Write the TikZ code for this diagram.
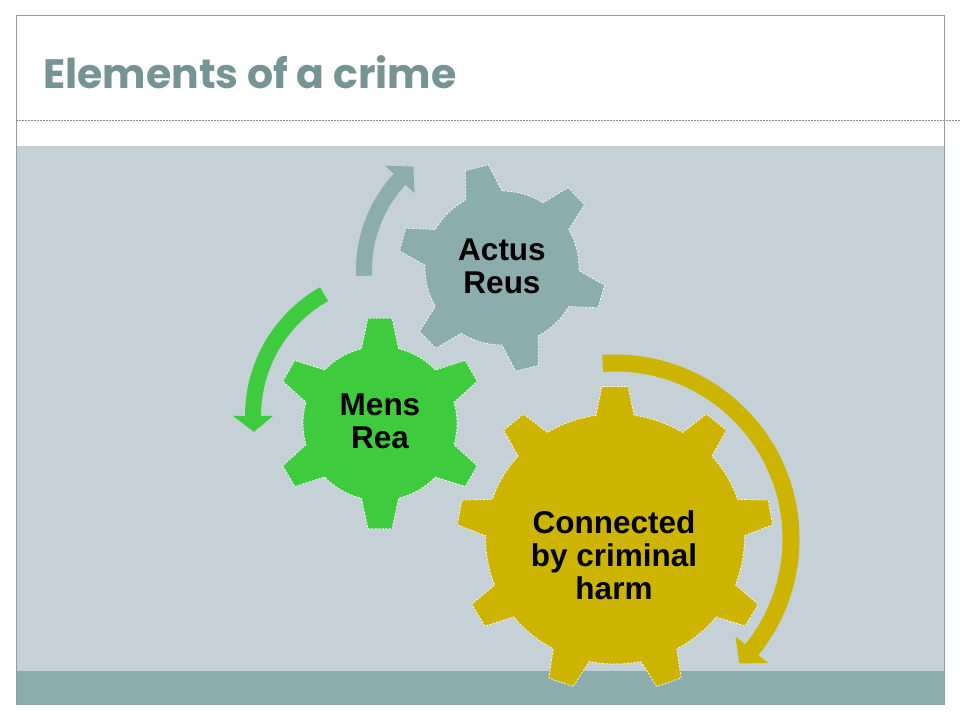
\documentclass[tikz,border=0pt]{standalone}
\usepackage{fontspec}
\newfontfamily\gearfont{Liberation Sans}
\newfontfamily\titlefont{Poppins}
\definecolor{bandgray}{RGB}{197,209,215}
\definecolor{tealc}{RGB}{140,173,173}
\definecolor{greenc}{RGB}{62,204,62}
\definecolor{goldc}{RGB}{204,180,0}
\definecolor{titlec}{RGB}{118,148,148}
\definecolor{framec}{RGB}{140,160,160}
\definecolor{dashc}{RGB}{130,140,140}
\newcommand\drawgear[7]{% #1 style, #2 n, #3 phase, #4 rroot, #5 rtip, #6 hb, #7 ht
  \path[#1] ({#3-#6}:#4) foreach \i in {1,...,#2}{ -- ({#3+(\i-1)*360/#2-#7}:#5) -- ({#3+(\i-1)*360/#2+#7}:#5) -- ({#3+(\i-1)*360/#2+#6}:#4) arc[start angle={#3+(\i-1)*360/#2+#6}, end angle={#3+\i*360/#2-#6}, radius=#4]} -- cycle;}
\newcommand\circarrow[7]{% #1 colour, #2 r, #3 start, #4 base, #5 tip, #6 shaft width, #7 head half width
  \draw[#1, line width=#6] ({#3}:#2) arc[start angle={#3}, end angle={#4+0.3*(#5-#4)}, radius=#2];
  \fill[#1] ({#4}:{#2-#7}) -- ({#5}:#2) -- ({#4}:{#2+#7}) -- cycle;}
\tikzset{
  gearstyle/.style={fill=#1, draw=white, line width=0.7pt, dash pattern=on 2pt off 1.5pt},
  geartext/.style={font=\gearfont\bfseries\fontsize{31.5}{33}\selectfont, align=center, inner sep=0pt, text=black},
}
\begin{document}
\begin{tikzpicture}[x=1pt,y=1pt]
\useasboundingbox (0,0) rectangle (960,720);
\fill[white] (0,0) rectangle (960,720);
% bands
\fill[bandgray] (16,49) rectangle (944,574);
\fill[tealc] (16,16) rectangle (944,49);
% frame
\draw[framec, line width=1pt] (16,16) rectangle (944,704);
\draw[dashc, line width=0.7pt, dash pattern=on 2pt off 1pt] (16,599.5) -- (960,599.5);
% title
\node[anchor=base west, inner sep=0pt, text=titlec, font=\titlefont\bfseries\fontsize{41}{46}\selectfont] (title) at (43,631) {Elements of a crime};
% arrows
\begin{scope}[shift={(497,450)}]
  \circarrow{tealc}{133}{182.5}{137}{129}{16}{20}
\end{scope}
\begin{scope}[shift={(393,304)}]
  \circarrow{greenc}{140}{119.5}{180}{186.5}{16}{20}
\end{scope}
\begin{scope}[shift={(615,181)}]
  \circarrow{goldc}{176}{94}{-39}{-45}{17}{21}
\end{scope}
% gears
\begin{scope}[shift={(502,452)}]
  \drawgear{gearstyle=tealc}{6}{104}{77}{104}{14}{6.5}
\end{scope}
\begin{scope}[shift={(380,296.5)}]
  \drawgear{gearstyle=greenc}{6}{90}{77}{106}{14}{6.5}
\end{scope}
\begin{scope}[shift={(615,181)}, xscale=1.035]
  \drawgear{gearstyle=goldc}{9}{90}{125}{153}{8.5}{4.7}
\end{scope}
% texts
\node[geartext] (actus) at (502,453.5) {Actus\\Reus};
\node[geartext] (mens) at (380,298.5) {Mens\\Rea};
\node[geartext] (harm) at (614,165) {Connected\\by criminal\\harm};
\end{tikzpicture}
\end{document}
